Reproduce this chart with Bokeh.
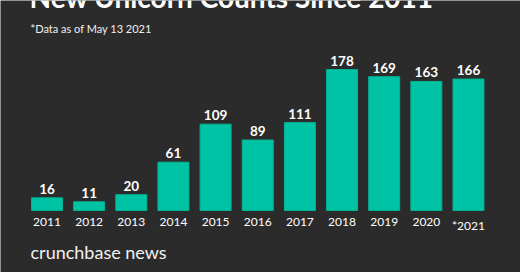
from bokeh.plotting import figure
from bokeh.models import ColumnDataSource, Range1d, Label
from bokeh.embed import file_html
from bokeh.resources import INLINE
from bokeh.core.properties import value

years = ["2011", "2012", "2013", "2014", "2015", "2016", "2017", "2018", "2019", "2020", "*2021"]
counts = [16, 11, 20, 61, 109, 89, 111, 178, 169, 163, 166]

title_text = "New Unicorn Counts Since 2011"
subtitle_text = "*Data as of May 13 2021"
brand_text = "crunchbase news"

BG = "#2b2b2b"
BAR = "#00c3a5"
FONT = "Lato"

xs = list(range(len(years)))
src = ColumnDataSource(dict(x=xs, year=years, count=counts,
                            label=[str(c) for c in counts]))

p = figure(width=520, height=272, output_backend="svg", toolbar_location=None,
           x_range=Range1d(-1.103, 11.234), y_range=Range1d(-78.3, 265.2),
           min_border=0, background_fill_color=BG, border_fill_color=BG,
           outline_line_color=None)
p.axis.visible = False
p.grid.visible = False

p.vbar(x="x", top="count", bottom=0, width=0.735, source=src,
       fill_color=BAR, line_color="#00b496", line_width=1)

p.text(x="x", y="count", text="label", source=src, y_offset=-4,
       text_align="center", text_baseline="bottom",
       text_font=value(FONT), text_font_style="bold",
       text_font_size="13.5px", text_color="white")

p.text(x="x", y=0, text="year", source=src, y_offset=8,
       text_align="center", text_baseline="top",
       text_font=value(FONT), text_font_size="12px", text_color="white")

p.add_layout(Label(x=29, y=276, x_units="screen", y_units="screen",
                   text=title_text, text_font=FONT, text_font_style="bold",
                   text_font_size="28px", text_color="white",
                   text_baseline="alphabetic"))
p.add_layout(Label(x=30, y=244, x_units="screen", y_units="screen",
                   text=subtitle_text, text_font=FONT,
                   text_font_size="11px", text_color="#f0f0f0",
                   text_baseline="middle"))
p.add_layout(Label(x=30, y=21, x_units="screen", y_units="screen",
                   text=brand_text, text_font=FONT,
                   text_font_size="18px", text_color="#f2f2f2",
                   text_baseline="middle"))

open("out.html", "w").write(file_html(p, INLINE))
